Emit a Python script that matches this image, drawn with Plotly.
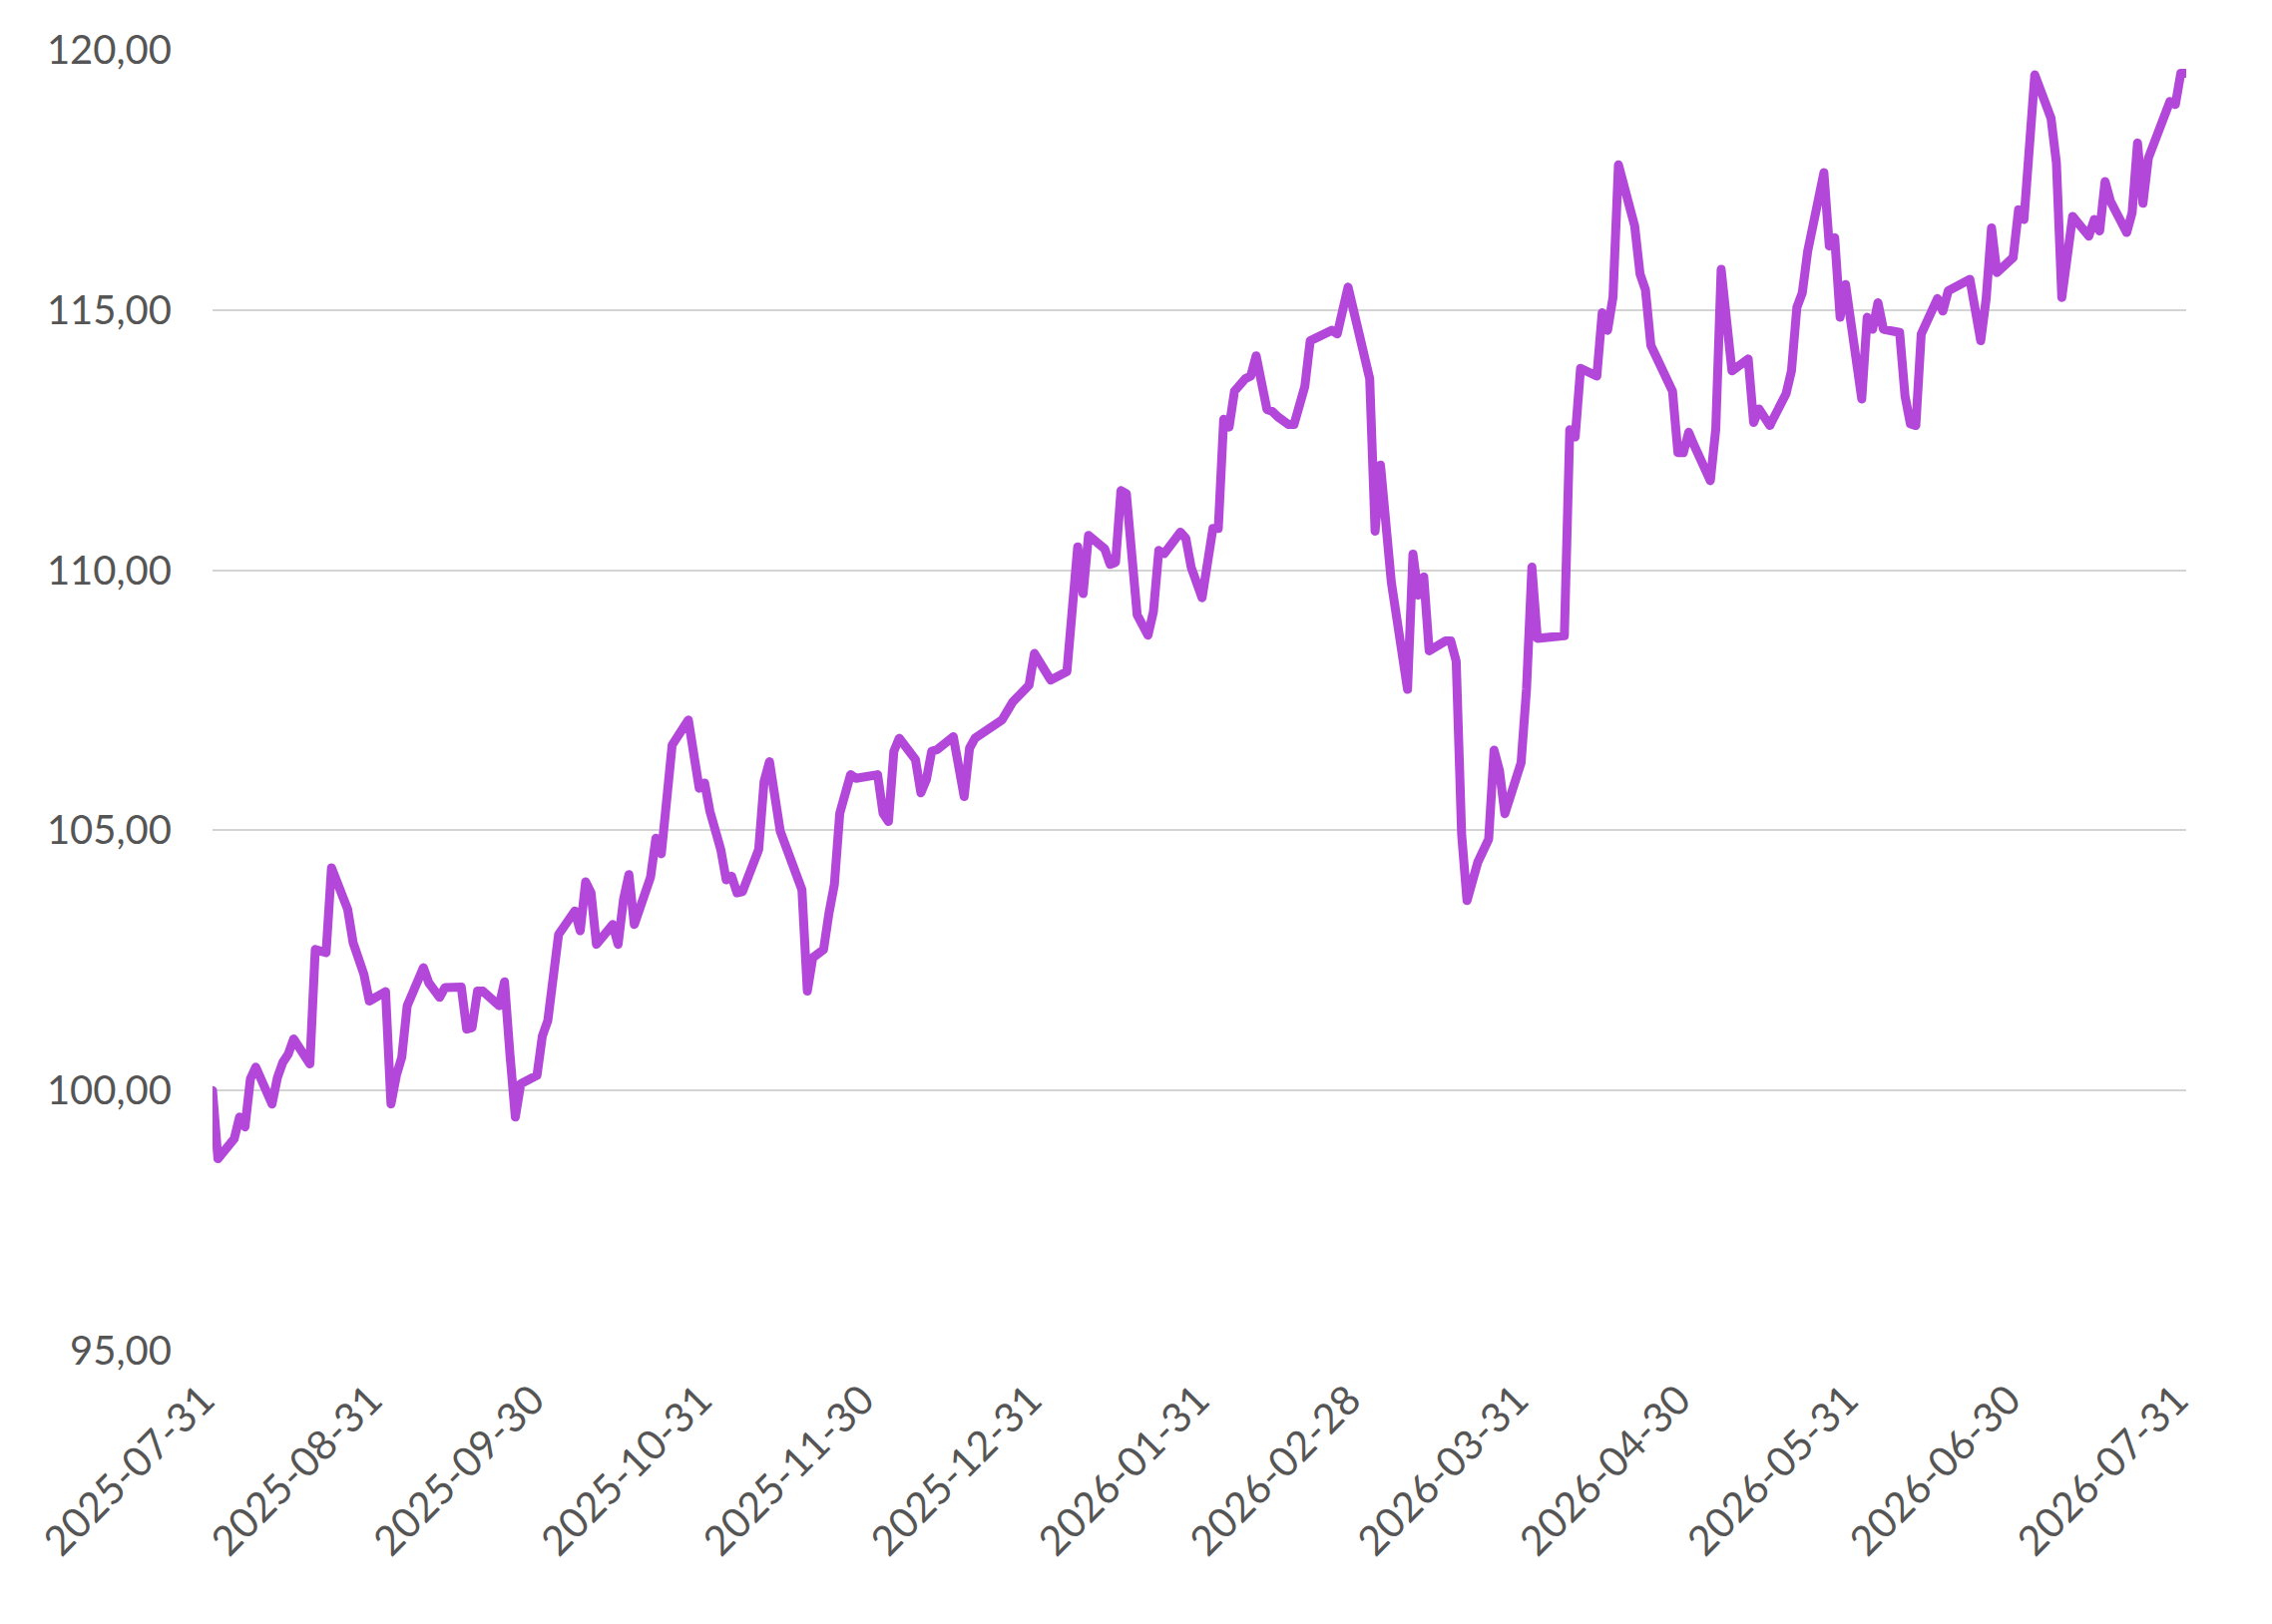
import plotly.graph_objects as go

dates = [
    "2025-07-31", "2025-08-01", "2025-08-04", "2025-08-05", "2025-08-06", "2025-08-07", "2025-08-08",
    "2025-08-11", "2025-08-12", "2025-08-13", "2025-08-14", "2025-08-15", "2025-08-18", "2025-08-19",
    "2025-08-21", "2025-08-22", "2025-08-25", "2025-08-26", "2025-08-28", "2025-08-29",
    "2025-09-01", "2025-09-02", "2025-09-03", "2025-09-04", "2025-09-05", "2025-09-08", "2025-09-09",
    "2025-09-11", "2025-09-12", "2025-09-15", "2025-09-16", "2025-09-17", "2025-09-18", "2025-09-19",
    "2025-09-22", "2025-09-23", "2025-09-24", "2025-09-25", "2025-09-26", "2025-09-29", "2025-09-30",
    "2025-10-01", "2025-10-03", "2025-10-06", "2025-10-07", "2025-10-08", "2025-10-09", "2025-10-10",
    "2025-10-13", "2025-10-14", "2025-10-15", "2025-10-16", "2025-10-17", "2025-10-20", "2025-10-21",
    "2025-10-22", "2025-10-24", "2025-10-27", "2025-10-29", "2025-10-30", "2025-10-31",
    "2025-11-02", "2025-11-03", "2025-11-04", "2025-11-05", "2025-11-06", "2025-11-09", "2025-11-10",
    "2025-11-11", "2025-11-13", "2025-11-17", "2025-11-18", "2025-11-19", "2025-11-21", "2025-11-22",
    "2025-11-23", "2025-11-24", "2025-11-26", "2025-11-27",
    "2025-12-01", "2025-12-02", "2025-12-03", "2025-12-04", "2025-12-05", "2025-12-08", "2025-12-09",
    "2025-12-10", "2025-12-11", "2025-12-12", "2025-12-15", "2025-12-17", "2025-12-18", "2025-12-19",
    "2025-12-22", "2025-12-24", "2025-12-26", "2025-12-29", "2025-12-30",
    "2026-01-02", "2026-01-05", "2026-01-07", "2026-01-08", "2026-01-09", "2026-01-12", "2026-01-13",
    "2026-01-14", "2026-01-15", "2026-01-16", "2026-01-18", "2026-01-20", "2026-01-21", "2026-01-22",
    "2026-01-23", "2026-01-26", "2026-01-27", "2026-01-28", "2026-01-29", "2026-01-30",
    "2026-02-01", "2026-02-02", "2026-02-03", "2026-02-04", "2026-02-05", "2026-02-07", "2026-02-08",
    "2026-02-09", "2026-02-11", "2026-02-12", "2026-02-13", "2026-02-15", "2026-02-16", "2026-02-18",
    "2026-02-19", "2026-02-23", "2026-02-24", "2026-02-26",
    "2026-03-02", "2026-03-03", "2026-03-04", "2026-03-05", "2026-03-06", "2026-03-09", "2026-03-10",
    "2026-03-11", "2026-03-12", "2026-03-13", "2026-03-16", "2026-03-17", "2026-03-18", "2026-03-19",
    "2026-03-20", "2026-03-22", "2026-03-24", "2026-03-25", "2026-03-26", "2026-03-27", "2026-03-30",
    "2026-03-31",
    "2026-04-01", "2026-04-02", "2026-04-07", "2026-04-08", "2026-04-09", "2026-04-10", "2026-04-13",
    "2026-04-14", "2026-04-15", "2026-04-16", "2026-04-17", "2026-04-20", "2026-04-21", "2026-04-22",
    "2026-04-23", "2026-04-27", "2026-04-28", "2026-04-29", "2026-04-30",
    "2026-05-01", "2026-05-04", "2026-05-05", "2026-05-06", "2026-05-08", "2026-05-11", "2026-05-12",
    "2026-05-13", "2026-05-15", "2026-05-18", "2026-05-19", "2026-05-20", "2026-05-21", "2026-05-22",
    "2026-05-25", "2026-05-26", "2026-05-27", "2026-05-28", "2026-05-29",
    "2026-06-01", "2026-06-02", "2026-06-03", "2026-06-04", "2026-06-05", "2026-06-08", "2026-06-09",
    "2026-06-10", "2026-06-11", "2026-06-12", "2026-06-15", "2026-06-16", "2026-06-17", "2026-06-21",
    "2026-06-23", "2026-06-24", "2026-06-25", "2026-06-26", "2026-06-29", "2026-06-30",
    "2026-07-01", "2026-07-03", "2026-07-06", "2026-07-07", "2026-07-08", "2026-07-10", "2026-07-13",
    "2026-07-14", "2026-07-15", "2026-07-16", "2026-07-17", "2026-07-20", "2026-07-21", "2026-07-22",
    "2026-07-23", "2026-07-24", "2026-07-26", "2026-07-28", "2026-07-29", "2026-07-30", "2026-07-31",
]

values = [
    100.00, 98.69, 99.07, 99.49, 99.30, 100.22, 100.45,
    99.74, 100.25, 100.54, 100.70, 100.99, 100.51, 102.71,
    102.65, 104.28, 103.48, 102.84, 102.23, 101.72,
    101.90, 99.74, 100.29, 100.64, 101.63, 102.36, 102.07,
    101.79, 101.98, 101.99, 101.18, 101.21, 101.91, 101.91,
    101.63, 102.09, 100.70, 99.49, 100.13, 100.29, 101.05,
    101.34, 103.00, 103.45, 103.07, 104.01, 103.80, 102.81,
    103.19, 102.81, 103.67, 104.15, 103.19, 104.10, 104.85,
    104.55, 106.64, 107.12, 105.81, 105.91, 105.36,
    104.63, 104.05, 104.12, 103.80, 103.82, 104.63, 105.94,
    106.32, 104.98, 103.86, 101.91, 102.55, 102.71, 103.41,
    103.96, 105.33, 106.07, 106.00,
    106.07, 105.33, 105.17, 106.52, 106.77, 106.36, 105.72,
    105.97, 106.52, 106.55, 106.80, 105.65, 106.58, 106.77,
    106.98, 107.12, 107.47, 107.79, 108.40,
    107.89, 108.05, 110.45, 109.55, 110.67, 110.41, 110.11,
    110.15, 111.53, 111.47, 109.14, 108.75, 109.20, 110.38,
    110.32, 110.73, 110.61, 110.05, 109.75, 109.47,
    110.80, 110.80, 112.90, 112.75, 113.44, 113.68, 113.73,
    114.12, 113.09, 113.05, 112.95, 112.80, 112.80, 113.53,
    114.41, 114.61, 114.54, 115.44,
    113.68, 110.75, 112.02, 110.84, 109.77, 107.71, 110.31,
    109.52, 109.87, 108.45, 108.64, 108.64, 108.25, 104.93,
    103.65, 104.39, 104.83, 106.54, 106.15, 105.32, 106.30,
    107.71,
    110.06, 108.69, 108.74, 112.70, 112.56, 113.88, 113.73,
    114.95, 114.61, 115.25, 117.79, 116.62, 115.69, 115.39,
    114.32, 113.44, 112.26, 112.26, 112.65,
    112.40, 111.72, 112.71, 115.78, 113.83, 114.06, 112.84,
    113.10, 112.78, 113.39, 113.83, 115.05, 115.33, 116.13,
    117.64, 116.23, 116.39, 114.86, 115.49,
    113.29, 114.86, 114.63, 115.14, 114.63, 114.57, 113.35,
    112.81, 112.78, 114.54, 115.22, 114.98, 115.37, 115.59,
    114.41, 115.21, 116.58, 115.72, 116.01, 116.93,
    116.74, 119.52, 118.69, 117.83, 115.24, 116.80, 116.42,
    116.74, 116.52, 117.47, 117.09, 116.49, 116.87, 118.21,
    117.05, 117.92, 118.43, 119.01, 118.95, 119.55, 119.55,
]

x_ticks = [
    "2025-07-31", "2025-08-31", "2025-09-30", "2025-10-31", "2025-11-30", "2025-12-31",
    "2026-01-31", "2026-02-28", "2026-03-31", "2026-04-30", "2026-05-31", "2026-06-30", "2026-07-31",
]
y_ticks = [95, 100, 105, 110, 115, 120]
y_tick_labels = ["95,00", "100,00", "105,00", "110,00", "115,00", "120,00"]

LINE_COLOR = "#b247da"
TEXT_COLOR = "#555555"
GRID_COLOR = "#d4d4d4"
FONT = "Lato"

fig = go.Figure()
fig.add_trace(go.Scatter(
    x=dates, y=values, mode="lines",
    line=dict(color=LINE_COLOR, width=9),
    hoverinfo="skip", showlegend=False,
))

fig.update_layout(
    width=2277, height=1628,
    margin=dict(l=213, r=86, t=50, b=274),
    paper_bgcolor="white", plot_bgcolor="white",
    font=dict(family=FONT, size=40, color=TEXT_COLOR),
    showlegend=False,
)
fig.update_xaxes(
    type="date",
    range=[x_ticks[0], x_ticks[-1]],
    tickmode="array", tickvals=x_ticks, ticktext=x_ticks,
    tickangle=-45,
    showgrid=False, zeroline=False, showline=False,
    ticks="", ticklabelstandoff=16, ticklabelshift=-10,
    tickfont=dict(family=FONT, size=41, color=TEXT_COLOR),
)
fig.update_yaxes(
    range=[95, 120],
    tickmode="array", tickvals=y_ticks, ticktext=y_tick_labels,
    showgrid=True, gridcolor=GRID_COLOR, gridwidth=2,
    zeroline=False, showline=False,
    ticks="", ticklabelstandoff=40,
    tickfont=dict(family=FONT, size=40, color=TEXT_COLOR),
)

post = """
document.body.style.margin='0';
document.body.style.padding='0';
document.querySelectorAll('.js-line').forEach(function(p){
  p.style.strokeLinejoin='round'; p.style.strokeLinecap='round';
});
"""
fig.write_html("out.html", config={"displayModeBar": False, "staticPlot": True}, post_script=post)
